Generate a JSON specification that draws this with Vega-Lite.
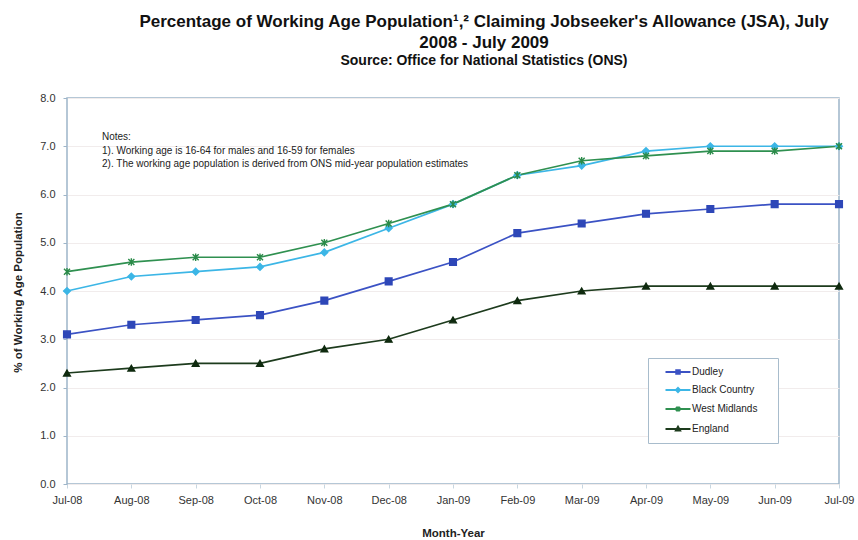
{
  "$schema": "https://vega.github.io/schema/vega-lite/v6.json",
  "width": 772,
  "height": 386,
  "autosize": "none",
  "padding": {"left": 67, "top": 98, "right": 19, "bottom": 56},
  "background": "white",
  "config": {
    "font": "Liberation Sans",
    "view": {"stroke": "#9db5c9", "strokeWidth": 1.5},
    "axis": {"domain": false, "labelFont": "Liberation Sans", "labelFontSize": 11, "labelColor": "#333333", "titleFont": "Liberation Sans", "titleFontSize": 11.5, "titleFontWeight": "bold", "titleColor": "#222222"}
  },
  "title": {
    "text": ["Percentage of Working Age Population¹,² Claiming Jobseeker's Allowance (JSA), July", "2008 - July 2009"],
    "subtitle": "Source: Office for National Statistics (ONS)",
    "fontSize": 17,
    "fontWeight": "bold",
    "color": "#111111",
    "lineHeight": 21,
    "subtitleFontSize": 14,
    "subtitleFontWeight": "bold",
    "subtitleColor": "#111111",
    "subtitlePadding": 2,
    "anchor": "middle",
    "dx": 31,
    "offset": 23
  },
  "data": {"values": [
    {"month": "Jul-08", "series": "Dudley", "value": 3.1},
    {"month": "Aug-08", "series": "Dudley", "value": 3.3},
    {"month": "Sep-08", "series": "Dudley", "value": 3.4},
    {"month": "Oct-08", "series": "Dudley", "value": 3.5},
    {"month": "Nov-08", "series": "Dudley", "value": 3.8},
    {"month": "Dec-08", "series": "Dudley", "value": 4.2},
    {"month": "Jan-09", "series": "Dudley", "value": 4.6},
    {"month": "Feb-09", "series": "Dudley", "value": 5.2},
    {"month": "Mar-09", "series": "Dudley", "value": 5.4},
    {"month": "Apr-09", "series": "Dudley", "value": 5.6},
    {"month": "May-09", "series": "Dudley", "value": 5.7},
    {"month": "Jun-09", "series": "Dudley", "value": 5.8},
    {"month": "Jul-09", "series": "Dudley", "value": 5.8},
    {"month": "Jul-08", "series": "Black Country", "value": 4.0},
    {"month": "Aug-08", "series": "Black Country", "value": 4.3},
    {"month": "Sep-08", "series": "Black Country", "value": 4.4},
    {"month": "Oct-08", "series": "Black Country", "value": 4.5},
    {"month": "Nov-08", "series": "Black Country", "value": 4.8},
    {"month": "Dec-08", "series": "Black Country", "value": 5.3},
    {"month": "Jan-09", "series": "Black Country", "value": 5.8},
    {"month": "Feb-09", "series": "Black Country", "value": 6.4},
    {"month": "Mar-09", "series": "Black Country", "value": 6.6},
    {"month": "Apr-09", "series": "Black Country", "value": 6.9},
    {"month": "May-09", "series": "Black Country", "value": 7.0},
    {"month": "Jun-09", "series": "Black Country", "value": 7.0},
    {"month": "Jul-09", "series": "Black Country", "value": 7.0},
    {"month": "Jul-08", "series": "West Midlands", "value": 4.4},
    {"month": "Aug-08", "series": "West Midlands", "value": 4.6},
    {"month": "Sep-08", "series": "West Midlands", "value": 4.7},
    {"month": "Oct-08", "series": "West Midlands", "value": 4.7},
    {"month": "Nov-08", "series": "West Midlands", "value": 5.0},
    {"month": "Dec-08", "series": "West Midlands", "value": 5.4},
    {"month": "Jan-09", "series": "West Midlands", "value": 5.8},
    {"month": "Feb-09", "series": "West Midlands", "value": 6.4},
    {"month": "Mar-09", "series": "West Midlands", "value": 6.7},
    {"month": "Apr-09", "series": "West Midlands", "value": 6.8},
    {"month": "May-09", "series": "West Midlands", "value": 6.9},
    {"month": "Jun-09", "series": "West Midlands", "value": 6.9},
    {"month": "Jul-09", "series": "West Midlands", "value": 7.0},
    {"month": "Jul-08", "series": "England", "value": 2.3},
    {"month": "Aug-08", "series": "England", "value": 2.4},
    {"month": "Sep-08", "series": "England", "value": 2.5},
    {"month": "Oct-08", "series": "England", "value": 2.5},
    {"month": "Nov-08", "series": "England", "value": 2.8},
    {"month": "Dec-08", "series": "England", "value": 3.0},
    {"month": "Jan-09", "series": "England", "value": 3.4},
    {"month": "Feb-09", "series": "England", "value": 3.8},
    {"month": "Mar-09", "series": "England", "value": 4.0},
    {"month": "Apr-09", "series": "England", "value": 4.1},
    {"month": "May-09", "series": "England", "value": 4.1},
    {"month": "Jun-09", "series": "England", "value": 4.1},
    {"month": "Jul-09", "series": "England", "value": 4.1}
  ]},
  "encoding": {
    "x": {
      "field": "month", "type": "ordinal",
      "scale": {"type": "point", "padding": 0, "domain": ["Jul-08","Aug-08","Sep-08","Oct-08","Nov-08","Dec-08","Jan-09","Feb-09","Mar-09","Apr-09","May-09","Jun-09","Jul-09"]},
      "axis": {"title": "Month-Year", "labelAngle": 0, "ticks": true, "tickSize": 4, "tickColor": "#c8d6e0", "labelPadding": 6, "grid": false, "titleX": 386, "titleY": 49, "titleBaseline": "middle", "titleAnchor": "middle"}
    },
    "y": {
      "field": "value", "type": "quantitative",
      "scale": {"domain": [0, 8], "nice": false},
      "axis": {"title": "% of Working Age Population", "values": [0,1,2,3,4,5,6,7,8], "format": ".1f", "ticks": true, "tickSize": 4, "tickColor": "#9db5c9", "labelPadding": 8, "grid": true, "gridColor": "#f1ecec", "gridWidth": 1, "titleX": -49, "titleY": 194, "titleAngle": -90, "titleAlign": "center", "titleBaseline": "middle", "titleAnchor": "middle"}
    }
  },
  "layer": [
    {
      "mark": {"type": "line", "strokeWidth": 1.7},
      "encoding": {
        "color": {"field": "series", "type": "nominal", "legend": null,
          "scale": {"domain": ["Dudley","Black Country","West Midlands","England"], "range": ["#3b52c4","#3cb6e6","#2f9050","#1d3b1d"]}}
      }
    },
    {
      "mark": {"type": "point", "filled": true, "size": 45, "strokeWidth": 1.4, "opacity": 1},
      "encoding": {
        "fill": {"field": "series", "type": "nominal", "legend": null,
          "scale": {"domain": ["Dudley","Black Country","West Midlands","England"], "range": ["#2e47b8","#3cb6e6","#2a8a48","#0f2a0f"]}},
        "stroke": {"field": "series", "type": "nominal", "legend": null,
          "scale": {"domain": ["Dudley","Black Country","West Midlands","England"], "range": ["#2e47b8","#3cb6e6","#2a8a48","#0f2a0f"]}},
        "shape": {"field": "series", "type": "nominal", "legend": null,
          "scale": {"domain": ["Dudley","Black Country","West Midlands","England"], "range": ["square","diamond","M-0.9,-0.9L0.9,0.9M-0.9,0.9L0.9,-0.9M0,-1.1V1.1","triangle-up"]}}
      }
    },
    {
      "data": {"values": [{"month": "Jul-08", "value": 7.29, "note": "Notes:\n1).  Working age is 16-64 for males and 16-59 for females\n2). The working age population is derived from ONS mid-year population estimates"}]},
      "mark": {"type": "text", "align": "left", "baseline": "top", "dx": 35, "fontSize": 10, "lineHeight": 13.5, "lineBreak": "\n", "color": "#222222", "font": "Liberation Sans"},
      "encoding": {"text": {"field": "note", "type": "nominal"}}
    },
    {
      "mark": {"type": "point", "filled": false, "opacity": 0, "strokeWidth": 2},
      "encoding": {
        "color": {"field": "series", "type": "nominal",
          "scale": {"domain": ["Dudley","Black Country","West Midlands","England"], "range": ["#3b52c4","#3cb6e6","#2f9050","#1d3b1d"]},
          "legend": {"title": null, "orient": "none", "legendX": 581, "legendY": 260, "strokeColor": "#a8bccc", "fillColor": "white", "padding": 8, "rowPadding": 6, "labelFontSize": 10, "labelFont": "Liberation Sans", "labelColor": "#222222", "symbolSize": 100, "symbolStrokeWidth": 2, "symbolOffset": 16, "labelOffset": 8, "symbolOpacity": 1, "labelExpr": "datum.label + '\u00a0\u00a0\u2800'"}},
        "shape": {"field": "series", "type": "nominal",
          "scale": {"domain": ["Dudley","Black Country","West Midlands","England"], "range": ["M-2.5,0H2.5M-0.35,-0.35H0.35V0.35H-0.35Z","M-2.5,0H2.5M0,-0.4L0.4,0L0,0.4L-0.4,0Z","M-2.5,0H2.5M-0.4,-0.4L0.4,0.4M-0.4,0.4L0.4,-0.4M0,-0.5V0.5","M-2.5,0H2.5M0,-0.45L0.42,0.3H-0.42Z"]},
          "legend": {"title": null, "orient": "none", "legendX": 581, "legendY": 260}}
      }
    }
  ],
  "resolve": {"scale": {"color": "independent", "shape": "independent"}}
}
